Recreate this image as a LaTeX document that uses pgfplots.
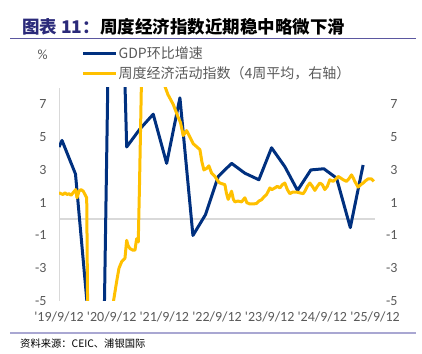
\documentclass[border=0pt]{standalone}
\usepackage{fontspec}
\setmainfont{Carlito}
\newfontfamily\cjk{Noto Sans CJK SC}
\usepackage{pgfplots}
\pgfplotsset{compat=1.18}
\definecolor{navy}{HTML}{00307F}
\definecolor{gold}{HTML}{FFC000}
\definecolor{txtgray}{HTML}{595959}
\definecolor{titlenavy}{HTML}{2B2A7A}
\definecolor{ruleA}{HTML}{5B57A0}
\definecolor{ruleB}{HTML}{A9A7D2}
\definecolor{gridgray}{HTML}{D9D9D9}
\begin{document}
\begin{tikzpicture}
\useasboundingbox (0pt,0pt) rectangle (422pt,353pt);
\node[anchor=west, inner sep=0pt, font=\cjk\bfseries\fontsize{17.5}{20}\selectfont] at (22pt,326.3pt) {\textcolor{titlenavy}{图表 11：}周度经济指数近期稳中略微下滑};
\draw[ruleA, line width=1pt] (10pt,314pt) -- (416pt,314pt);
\draw[ruleB, line width=1.5pt] (10pt,20pt) -- (416pt,20pt);
\node[anchor=west, inner sep=0pt, font=\cjk\fontsize{10.3}{12}\selectfont] at (20pt,9pt) {资料来源：CEIC、浦银国际};
\node[inner sep=0pt, text=txtgray, font=\fontsize{14}{16}\selectfont] at (42.7pt,298pt) {\%};

\begin{axis}[at={(59pt,52pt)}, anchor=south west, scale only axis,
  width=316pt, height=213pt,
  xmin=2019.70, xmax=2025.70, ymin=-5, ymax=8,
  xtick={2019.70,2020.70,2021.70,2022.70,2023.70,2024.70,2025.70},
  xticklabels={\textquotesingle19/9/12,\textquotesingle20/9/12,\textquotesingle21/9/12,\textquotesingle22/9/12,\textquotesingle23/9/12,\textquotesingle24/9/12,\textquotesingle25/9/12},
  ytick={-5,-3,-1,1,3,5,7}, yticklabels={-5,-3,-1,1,3,5,7},
  axis y line*=left, axis x line*=bottom,
  axis line style={-},
  x axis line style={draw=none},
  y axis line style={draw=gridgray, line width=1pt},
  tick style={draw=none},
  ticklabel style={text=txtgray, font=\fontsize{14}{16}\selectfont},
  yticklabel style={xshift=-9pt},
  xticklabel style={yshift=-7pt},
  extra y ticks={0}, extra y tick labels={},
  extra y tick style={grid=major, major grid style={draw=gridgray, line width=1.2pt}},
  legend style={at={(0.0718,1.197)}, anchor=north west, draw=none, fill=none,
    inner sep=0pt, outer sep=0pt, font=\cjk\fontsize{14}{16}\selectfont,
    text=txtgray, row sep=4pt, nodes={inner sep=1pt}},
  legend cell align=left,
  legend image code/.code={\draw[#1] (0pt,0pt) -- (33pt,0pt);},
  line join=round,
]
\addplot[navy, line width=3pt, no markers] coordinates {
(2019.700,4.4) (2019.757,4.8) (2020.013,2.75) (2020.260,-6.1) (2020.516,-15)
(2020.744,33) (2020.985,4.4) (2021.237,5.5) (2021.489,6.4) (2021.744,3.4)
(2021.996,7.4) (2022.243,-1.0) (2022.480,0.26) (2022.723,2.6) (2022.977,3.4)
(2023.229,2.8) (2023.495,2.4) (2023.736,4.35) (2023.988,3.2) (2024.229,1.75)
(2024.482,3.0) (2024.729,3.07) (2024.970,2.5) (2025.231,-0.52) (2025.474,3.3)
};
\addlegendentry{GDP环比增速}
\addplot[gold, line width=3pt, no markers] coordinates {
(2019.700,1.6) (2019.738,1.55) (2019.776,1.5) (2019.814,1.6) (2019.852,1.5)
(2019.890,1.55) (2019.928,1.45) (2019.966,1.6) (2020.017,1.8) (2020.042,1.3)
(2020.080,1.7) (2020.117,1.8) (2020.161,1.7) (2020.193,1.5) (2020.226,1.3)
(2020.250,-8) (2020.326,-20) (2020.478,-25) (2020.630,-15) (2020.706,-6.5)
(2020.730,-5.1) (2020.795,-3.8) (2020.839,-3.0) (2020.890,-2.6) (2020.952,-2.4)
(2020.985,-1.3) (2021.009,-1.6) (2021.047,-1.8) (2021.104,-1.9) (2021.142,-1.9)
(2021.174,-1.2) (2021.205,-1.4) (2021.228,2) (2021.269,9) (2021.332,14)
(2021.465,16) (2021.617,12) (2021.711,8.1) (2021.768,7.6) (2021.869,7.0)
(2021.964,6.2) (2022.006,5.9) (2022.059,5.1) (2022.123,5.4) (2022.186,5.0)
(2022.248,4.6) (2022.319,4.4) (2022.375,4.24) (2022.413,3.5) (2022.451,3.0)
(2022.508,3.1) (2022.546,3.25) (2022.598,2.8) (2022.660,2.6) (2022.723,2.3)
(2022.755,2.2) (2022.850,2.1) (2022.878,1.6) (2022.912,1.2) (2022.977,1.7)
(2023.011,1.2) (2023.040,1.05) (2023.097,1.1) (2023.167,1.05) (2023.229,1.3)
(2023.267,1.0) (2023.324,0.92) (2023.381,0.92) (2023.451,0.95) (2023.495,1.1)
(2023.546,1.18) (2023.590,1.35) (2023.641,1.5) (2023.704,1.9) (2023.742,1.8)
(2023.799,1.9) (2023.846,2.0) (2023.894,1.9) (2023.941,2.1) (2023.988,2.2)
(2024.036,1.8) (2024.083,1.55) (2024.140,1.65) (2024.210,1.65) (2024.273,1.6)
(2024.336,1.55) (2024.368,1.7) (2024.415,2.0) (2024.463,2.2) (2024.510,2.0)
(2024.558,1.75) (2024.605,2.0) (2024.653,2.2) (2024.700,2.1) (2024.747,1.8)
(2024.795,2.0) (2024.842,2.4) (2024.905,2.3) (2024.956,2.45) (2025.000,2.6)
(2025.051,2.5) (2025.095,2.4) (2025.159,2.3) (2025.203,2.45) (2025.254,2.7)
(2025.288,2.5) (2025.317,2.3) (2025.379,1.95) (2025.431,2.1) (2025.474,2.2)
(2025.525,2.35) (2025.569,2.45) (2025.634,2.45) (2025.677,2.3)
};
\addlegendentry{周度经济活动指数（4周平均，右轴）}
\end{axis}

\begin{axis}[at={(59pt,52pt)}, anchor=south west, scale only axis,
  width=316pt, height=213pt,
  xmin=2019.70, xmax=2025.70, ymin=-5, ymax=8,
  axis y line*=right, axis x line=none,
  y axis line style={draw=none},
  tick style={draw=none},
  ytick={-5,-3,-1,1,3,5,7}, yticklabels={-5,-3,-1,1,3,5,7},
  ticklabel style={text=txtgray, font=\fontsize{14}{16}\selectfont},
  yticklabel style={anchor=east, xshift=26pt},
]
\addplot[draw=none] coordinates {(2020,0)};
\end{axis}
\end{tikzpicture}
\end{document}
